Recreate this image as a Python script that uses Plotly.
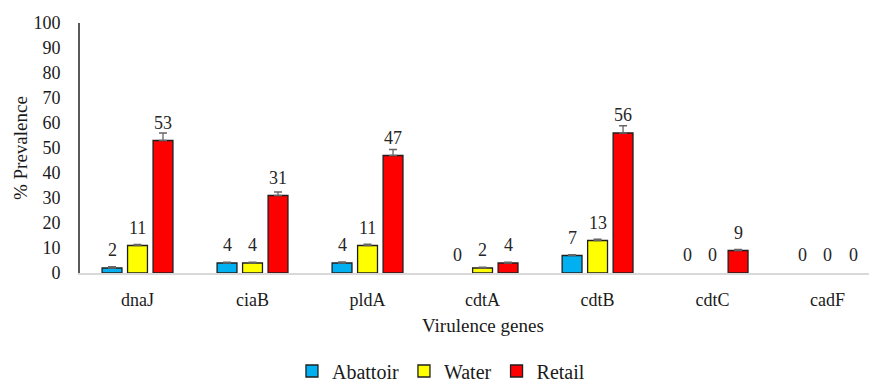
import plotly.graph_objects as go

# Virulence gene prevalence by sampling source
genes = ["dnaJ", "ciaB", "pldA", "cdtA", "cdtB", "cdtC", "cadF"]
abattoir = [2, 4, 4, 0, 7, 0, 0]
water = [11, 4, 11, 2, 13, 0, 0]
retail = [53, 31, 47, 4, 56, 9, 0]

abattoir_err = [0.5, 0.3, 0.4, 0.0, 0.3, 0.0, 0.0]
water_err = [0.4, 0.3, 0.5, 0.3, 0.5, 0.0, 0.0]
retail_err = [3.0, 1.4, 2.4, 0.3, 2.9, 0.4, 0.0]

y_ticks = list(range(0, 101, 10))

series = [
    ("Abattoir", abattoir, abattoir_err, "#00B0F0"),
    ("Water", water, water_err, "#FFFF00"),
    ("Retail", retail, retail_err, "#FF0000"),
]

SERIF = "Liberation Serif"
BARGAP = 0.335
BARGROUPGAP = 0.22

x_pos = list(range(len(genes)))

fig = go.Figure()
for name, vals, errs, color in series:
    # empty categories draw no bar and no error cap
    bar_y = [v if v > 0 else None for v in vals]
    err_plus = [e if v > 0 else None for v, e in zip(vals, errs)]
    fig.add_trace(go.Bar(
        name=name,
        x=x_pos,
        y=bar_y,
        marker=dict(color=color, line=dict(color="#1f1f1f", width=1.3)),
        error_y=dict(
            type="data", array=err_plus, arrayminus=[0] * len(errs),
            symmetric=False, color="#666666", thickness=1.3, width=4,
        ),
    ))

# value labels above each bar
sub_slot = (1 - BARGAP) / len(series)
annotations = []
for j, (name, vals, errs, color) in enumerate(series):
    off = (j - (len(series) - 1) / 2) * sub_slot
    for i, v in enumerate(vals):
        annotations.append(dict(
            x=i + off, y=v, xref="x", yref="y",
            text=str(v), showarrow=False,
            yanchor="middle", yshift=18,
            font=dict(family=SERIF, size=18, color="#262626"),
        ))

annotations.append(dict(
    x=0.511, y=-0.208, xref="paper", yref="paper",
    text="Virulence genes", showarrow=False,
    xanchor="center", yanchor="middle",
    font=dict(family=SERIF, size=19, color="#1a1a1a"),
))
annotations.append(dict(
    x=-0.076, y=0.5, xref="paper", yref="paper",
    text="% Prevalence", showarrow=False, textangle=-90,
    xanchor="center", yanchor="middle",
    font=dict(family=SERIF, size=19, color="#1a1a1a"),
))

fig.update_layout(
    width=874, height=385,
    margin=dict(l=80, r=5, t=23, b=112, autoexpand=False),
    paper_bgcolor="white", plot_bgcolor="white",
    barmode="group", bargap=BARGAP, bargroupgap=BARGROUPGAP,
    annotations=annotations,
    showlegend=True,
    legend=dict(
        orientation="h", x=0.4575, y=-0.392,
        xanchor="center", yanchor="middle",
        font=dict(family=SERIF, size=20, color="#1a1a1a"),
        itemwidth=30, traceorder="normal",
    ),
    font=dict(family=SERIF, color="#1a1a1a"),
)

fig.update_xaxes(
    range=[-0.5, 6.36],
    tickmode="array", tickvals=x_pos, ticktext=genes,
    showline=True, linecolor="#d9d9d9", linewidth=2,
    showgrid=False, zeroline=False, ticks="",
    tickfont=dict(family=SERIF, size=18, color="#1a1a1a"),
    ticklabelstandoff=9,
)
fig.update_yaxes(
    range=[0, 100],
    tickmode="array", tickvals=y_ticks,
    showline=True, linecolor="#595959", linewidth=2,
    showgrid=False, zeroline=False, ticks="",
    tickfont=dict(family=SERIF, size=18, color="#1a1a1a"),
    ticklabelstandoff=14,
)

fig.write_html("out.html")
